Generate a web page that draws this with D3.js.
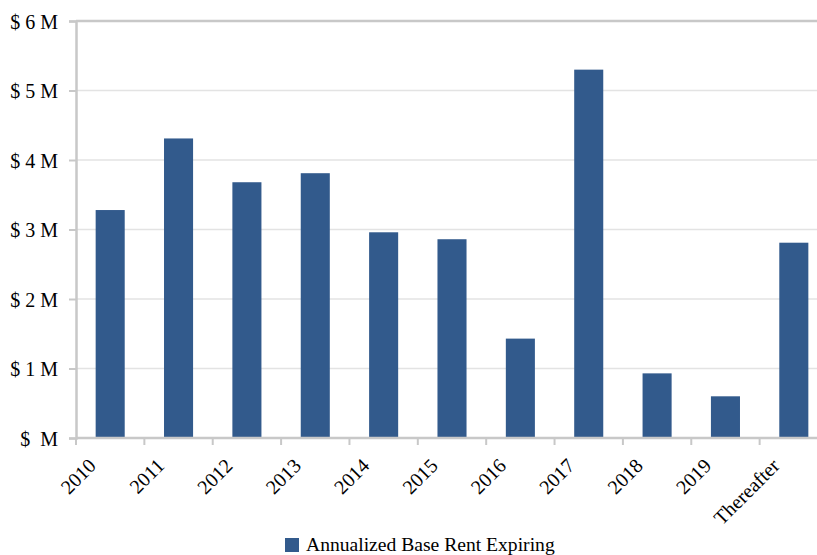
<!DOCTYPE html>
<html>
<head>
<meta charset="utf-8">
<script src="https://cdn.jsdelivr.net/npm/d3@7"></script>
<style>
  body { margin: 0; background: #fff; }
  svg { display: block; font-family: "Liberation Serif", "Times New Roman", serif; }
</style>
</head>
<body>
<div id="chart"></div>
<script>
const width = 817;
const height = 555;

// data
const years = ['2010', '2011', '2012', '2013', '2014', '2015', '2016', '2017', '2018', '2019', 'Thereafter'];
const rentExpiring = [3.28, 4.31, 3.68, 3.81, 2.96, 2.86, 1.43, 5.30, 0.93, 0.60, 2.81]; // $ millions
const yTicks = [0, 1, 2, 3, 4, 5, 6];
const yTickLabels = ['$  M', '$ 1 M', '$ 2 M', '$ 3 M', '$ 4 M', '$ 5 M', '$ 6 M'];
const seriesName = 'Annualized Base Rent Expiring';

const margin = { top: 21, left: 76, bottom: 438 };
const plotRight = 828;

const svg = d3.select('#chart').append('svg')
  .attr('width', width)
  .attr('height', height);

const scaleX = d3.scaleBand()
  .domain(years)
  .range([margin.left, plotRight])
  .paddingInner(0.575)
  .paddingOuter(0.2875);

const scaleY = d3.scaleLinear()
  .domain([0, 6])
  .range([margin.bottom, margin.top]);

// horizontal grid lines (top one is the plot border, darker)
const grid = svg.append('g');
grid.selectAll('line')
  .data(yTicks.filter(t => t > 0))
  .enter()
  .append('line')
  .attr('x1', margin.left)
  .attr('x2', plotRight)
  .attr('y1', d => scaleY(d))
  .attr('y2', d => scaleY(d))
  .attr('stroke', d => d === 6 ? '#c8c8c8' : '#e3e3e3')
  .attr('stroke-width', d => d === 6 ? 2.5 : 1.5);

// bars
svg.append('g').selectAll('rect')
  .data(years)
  .enter()
  .append('rect')
  .attr('x', d => scaleX(d))
  .attr('width', scaleX.bandwidth())
  .attr('y', (d, i) => scaleY(rentExpiring[i]))
  .attr('height', (d, i) => scaleY(0) - scaleY(rentExpiring[i]))
  .attr('fill', '#325a8c');

// y axis
const yAxis = d3.axisLeft(scaleY)
  .tickValues(yTicks)
  .tickSize(7)
  .tickPadding(11)
  .tickFormat((d, i) => yTickLabels[i]);

const yG = svg.append('g')
  .attr('transform', `translate(${margin.left}, 0)`)
  .call(yAxis);
yG.select('.domain').attr('stroke', '#c8c8c8').attr('stroke-width', 2.5);
yG.selectAll('.tick line').attr('stroke', '#c8c8c8').attr('stroke-width', 2);
yG.selectAll('.tick text')
  .attr('font-size', 20)
  .attr('font-family', '"Liberation Serif", serif')
  .attr('fill', '#000')
  .attr('dy', '0.35em')
  .style('white-space', 'pre');

// x axis: ticks sit on the category boundaries
const boundaries = years.map((d, i) => margin.left + i * scaleX.step());
const xG = svg.append('g');
xG.append('line')
  .attr('x1', margin.left)
  .attr('x2', plotRight)
  .attr('y1', margin.bottom)
  .attr('y2', margin.bottom)
  .attr('stroke', '#c8c8c8')
  .attr('stroke-width', 2.5);
xG.selectAll('line.tick')
  .data(boundaries)
  .enter()
  .append('line')
  .attr('class', 'tick')
  .attr('x1', d => d)
  .attr('x2', d => d)
  .attr('y1', margin.bottom)
  .attr('y2', margin.bottom + 7)
  .attr('stroke', '#c8c8c8')
  .attr('stroke-width', 2);

xG.selectAll('text')
  .data(years)
  .enter()
  .append('text')
  .attr('transform', d => `translate(${scaleX(d) + scaleX.bandwidth() / 2 - 13}, 467) rotate(-45)`)
  .attr('text-anchor', 'end')
  .attr('font-size', 20)
  .attr('fill', '#000')
  .text(d => d);

// legend
const legend = svg.append('g');
legend.append('rect')
  .attr('x', 285)
  .attr('y', 538)
  .attr('width', 14)
  .attr('height', 14)
  .attr('fill', '#325a8c');
legend.append('text')
  .attr('x', 306)
  .attr('y', 551)
  .attr('font-size', 19.6)
  .attr('fill', '#000')
  .text(seriesName);
</script>
</body>
</html>
